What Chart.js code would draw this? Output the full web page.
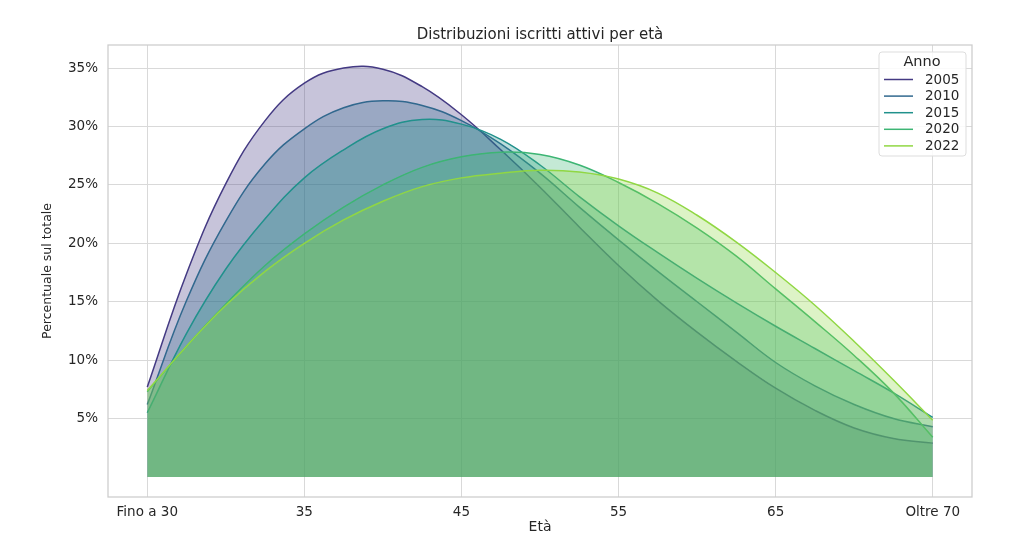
<!DOCTYPE html>
<html>
<head>
<meta charset="utf-8">
<title>Distribuzioni iscritti attivi per età</title>
<script src="https://cdn.jsdelivr.net/npm/chart.js@4.4.1/dist/chart.umd.min.js"></script>
<style>
  html, body { margin: 0; padding: 0; background: #fff; }
  #wrap { width: 1024px; height: 553px; position: relative; }
</style>
</head>
<body>
<div id="wrap"><canvas id="chartEta"></canvas></div>
<script>
// etichette delle classi di età (posizioni 0..5 sull'asse)
const etaLabels = ['Fino a 30', '35', '45', '55', '65', 'Oltre 70'];
// punti, ogni quarto di classe
const posizioni = [0, 0.25, 0.5, 0.75, 1, 1.25, 1.5, 1.75, 2, 2.25, 2.5,
  2.75, 3, 3.25, 3.5, 3.75, 4, 4.25, 4.5, 4.75, 5];
const tickPercentuali = [5, 10, 15, 20, 25, 30, 35];
const anni = ['2005', '2010', '2015', '2020', '2022'];

const serie2005 = [7.7, 17.4, 25.1, 30.5, 33.7, 35.0, 34.9, 33.4, 31.0, 28.0, 24.8,
  21.4, 18.1, 15.1, 12.4, 9.9, 7.6, 5.7, 4.2, 3.3, 2.9];
const serie2010 = [6.2, 15.1, 21.9, 26.8, 29.8, 31.6, 32.2, 31.8, 30.5, 28.5, 26.0,
  23.1, 20.3, 17.6, 15.0, 12.4, 9.8, 7.8, 6.2, 5.0, 4.3];
const serie2015 = [5.5, 12.3, 17.8, 22.1, 25.6, 28.0, 29.8, 30.6, 30.2, 28.9, 26.7,
  24.0, 21.5, 19.2, 17.0, 14.9, 12.9, 11.0, 9.1, 7.2, 5.1];
const serie2020 = [7.3, 11.2, 14.8, 18.1, 20.8, 23.1, 25.0, 26.5, 27.4, 27.8, 27.6,
  26.7, 25.2, 23.4, 21.3, 18.9, 16.1, 13.3, 10.4, 7.2, 3.4];
const serie2022 = [7.4, 11.2, 14.7, 17.6, 20.0, 22.0, 23.6, 24.85, 25.6, 26.0, 26.25,
  26.1, 25.5, 24.3, 22.4, 20.1, 17.5, 14.7, 11.6, 8.3, 4.85];

const tutteLeSerie = [serie2005, serie2010, serie2015, serie2020, serie2022];
// viridis, 5 colori
const colori = ['#443a83', '#31688e', '#21918c', '#3db574', '#90d743'];

const FONT = "'DejaVu Sans', 'Liberation Sans', sans-serif";
const TESTO = '#262626';

function hexToRgba(hex, a) {
  const n = parseInt(hex.slice(1), 16);
  return `rgba(${(n >> 16) & 255}, ${(n >> 8) & 255}, ${n & 255}, ${a})`;
}

const datasets = tutteLeSerie.map((valori, i) => ({
  label: anni[i],
  data: posizioni.map((p, k) => ({ x: p, y: valori[k] })),
  borderColor: colori[i],
  backgroundColor: hexToRgba(colori[i], 0.3),
  borderWidth: 1.5,
  fill: 'origin',
  pointRadius: 0,
  tension: 0.4,
  order: anni.length - 1 - i
}));

// titolo centrato sull'area del grafico
const titoloPlugin = {
  id: 'titoloPlugin',
  afterDraw(chart) {
    const ctx = chart.ctx, a = chart.chartArea;
    ctx.save();
    ctx.font = `15px ${FONT}`;
    ctx.fillStyle = TESTO;
    ctx.textAlign = 'center';
    ctx.textBaseline = 'middle';
    ctx.fillText('Distribuzioni iscritti attivi per età', (a.left + a.right) / 2, a.top - 10);
    ctx.restore();
  }
};

// cornice attorno all'area (spine di seaborn)
const cornicePlugin = {
  id: 'cornicePlugin',
  afterDatasetsDraw(chart) {
    const ctx = chart.ctx, a = chart.chartArea;
    ctx.save();
    ctx.strokeStyle = '#cccccc';
    ctx.lineWidth = 1.25;
    ctx.strokeRect(a.left, a.top, a.right - a.left, a.bottom - a.top);
    ctx.restore();
  }
};

// legenda "Anno" dentro il grafico, in alto a destra
const legendaPlugin = {
  id: 'legendaPlugin',
  afterDraw(chart) {
    const ctx = chart.ctx, a = chart.chartArea;
    const x0 = a.right - 93, y0 = a.top + 7, w = 87, h = 104;
    ctx.save();
    ctx.fillStyle = 'rgba(255,255,255,0.85)';
    ctx.strokeStyle = '#dddddd';
    ctx.lineWidth = 1;
    ctx.beginPath();
    ctx.roundRect(x0, y0, w, h, 3);
    ctx.fill();
    ctx.stroke();

    ctx.fillStyle = TESTO;
    ctx.textBaseline = 'middle';
    ctx.textAlign = 'center';
    ctx.font = `14.5px ${FONT}`;
    ctx.fillText('Anno', x0 + 43, y0 + 10);

    ctx.font = `13.5px ${FONT}`;
    ctx.textAlign = 'left';
    anni.forEach((anno, i) => {
      const y = y0 + 27.5 + i * 16.6;
      ctx.strokeStyle = colori[i];
      ctx.lineWidth = 1.5;
      ctx.beginPath();
      ctx.moveTo(x0 + 5, y);
      ctx.lineTo(x0 + 34, y);
      ctx.stroke();
      ctx.fillStyle = TESTO;
      ctx.fillText(anno, x0 + 46, y + 0.5);
    });
    ctx.restore();
  }
};

new Chart(document.getElementById('chartEta'), {
  type: 'line',
  data: { datasets: datasets },
  plugins: [titoloPlugin, cornicePlugin, legendaPlugin],
  options: {
    responsive: true,
    maintainAspectRatio: false,
    animation: false,
    layout: { padding: { top: 45, right: 52, left: 0, bottom: 0 } },
    plugins: {
      legend: { display: false },
      tooltip: { enabled: false }
    },
    scales: {
      x: {
        type: 'linear',
        min: -0.25,
        max: 5.25,
        afterBuildTicks: (axis) => {
          axis.ticks = etaLabels.map((_, i) => ({ value: i }));
        },
        afterFit: (scale) => { scale.height = 56; },
        ticks: {
          padding: 7,
          color: TESTO,
          font: { family: FONT, size: 13.5 },
          maxRotation: 0,
          callback: (v) => etaLabels[v]
        },
        grid: { color: '#d9d9d9', lineWidth: 1, drawTicks: false },
        border: { display: false },
        title: {
          display: true,
          text: 'Età',
          color: TESTO,
          font: { family: FONT, size: 14 },
          padding: { top: 0, bottom: 17 }
        }
      },
      y: {
        type: 'linear',
        min: -1.71,
        max: 36.97,
        afterBuildTicks: (axis) => {
          axis.ticks = tickPercentuali.map((v) => ({ value: v }));
        },
        afterFit: (scale) => { scale.width = 108; },
        ticks: {
          padding: 10,
          color: TESTO,
          font: { family: FONT, size: 13.5 },
          callback: (v) => v + '%'
        },
        grid: { color: '#d9d9d9', lineWidth: 1, drawTicks: false },
        border: { display: false },
        title: {
          display: true,
          text: 'Percentuale sul totale',
          color: TESTO,
          font: { family: FONT, size: 12.5 },
          padding: { top: 40, bottom: 0 }
        }
      }
    }
  }
});
</script>
</body>
</html>
